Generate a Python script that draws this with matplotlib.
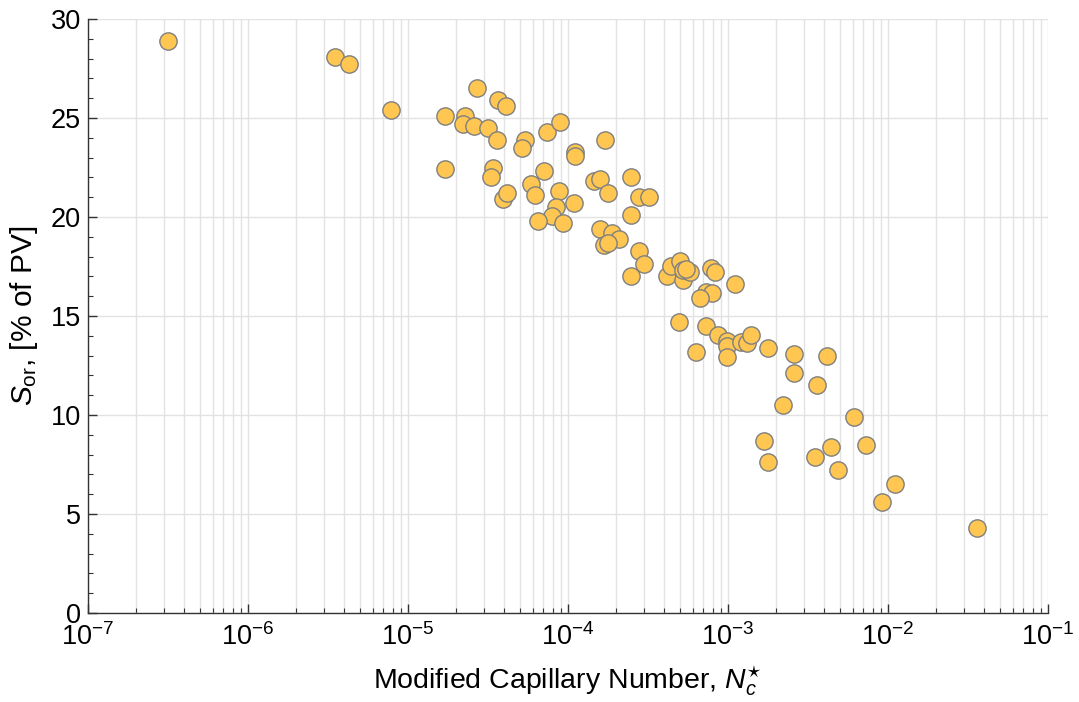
import matplotlib
matplotlib.use('Agg')
import matplotlib.pyplot as plt
from matplotlib.ticker import LogLocator, MultipleLocator, NullFormatter

plt.rcParams['font.family'] = ['Liberation Sans', 'DejaVu Sans']
plt.rcParams['mathtext.fontset'] = 'custom'
plt.rcParams['mathtext.rm'] = 'Liberation Sans'
plt.rcParams['mathtext.it'] = 'Liberation Sans:italic'
plt.rcParams['mathtext.bf'] = 'Liberation Sans:bold'

# Modified capillary number and residual oil saturation (% of PV)
capillary_number = [
    3.18e-7, 3.48e-6, 4.28e-6, 7.83e-6, 1.69e-5, 1.69e-5, 2.69e-5,
    3.67e-5, 4.10e-5, 2.28e-5, 2.19e-5, 2.59e-5, 3.18e-5, 3.58e-5,
    5.39e-5, 5.19e-5, 7.37e-5, 8.95e-5, 1.10e-4, 1.10e-4, 1.69e-4,
    3.38e-5, 3.29e-5, 7.08e-5, 5.87e-5, 6.19e-5, 3.95e-5, 4.18e-5,
    8.83e-5, 1.09e-4, 8.38e-5, 7.90e-5, 6.46e-5, 9.34e-5, 1.46e-4,
    1.58e-4, 1.79e-4, 2.49e-4, 2.79e-4, 3.19e-4, 2.49e-4, 1.58e-4,
    1.89e-4, 2.09e-4, 1.68e-4, 1.79e-4, 2.79e-4, 2.98e-4, 2.49e-4,
    4.18e-4, 4.41e-4, 5.01e-4, 5.21e-4, 5.21e-4, 5.79e-4, 5.50e-4,
    7.87e-4, 8.27e-4, 7.29e-4, 7.94e-4, 6.68e-4, 1.10e-3, 4.96e-4,
    7.26e-4, 8.70e-4, 9.80e-4, 9.90e-4, 1.20e-3, 1.31e-3, 1.39e-3,
    9.86e-4, 6.29e-4, 1.79e-3, 2.58e-3, 2.60e-3, 3.58e-3, 4.18e-3,
    2.20e-3, 6.13e-3, 1.69e-3, 1.79e-3, 4.39e-3, 3.50e-3, 7.29e-3,
    4.90e-3, 1.10e-2, 9.12e-3, 3.58e-2,
]
residual_oil = [
    28.9, 28.1, 27.7, 25.4, 25.1, 22.4, 26.5,
    25.9, 25.6, 25.1, 24.7, 24.6, 24.5, 23.9,
    23.9, 23.5, 24.3, 24.8, 23.3, 23.1, 23.9,
    22.45, 22.0, 22.3, 21.65, 21.1, 20.9, 21.2,
    21.3, 20.7, 20.5, 20.07, 19.8, 19.7, 21.8,
    21.9, 21.2, 22.0, 21.0, 21.0, 20.1, 19.4,
    19.2, 18.9, 18.6, 18.7, 18.3, 17.6, 17.0,
    17.0, 17.5, 17.8, 16.8, 17.3, 17.2, 17.35,
    17.44, 17.2, 16.2, 16.15, 15.9, 16.6, 14.7,
    14.5, 14.04, 13.75, 13.5, 13.7, 13.65, 14.04,
    12.95, 13.2, 13.4, 13.1, 12.1, 11.5, 13.0,
    10.5, 9.9, 8.7, 7.6, 8.4, 7.9, 8.5,
    7.2, 6.5, 5.6, 4.3,
]

fig = plt.figure(figsize=(10.79, 7.02), dpi=100)
ax = fig.add_axes([0.0816, 0.1268, 0.8897, 0.8462])

ax.scatter(capillary_number, residual_oil, s=155, color='#ffc752',
           edgecolors='#7f7f7f', linewidths=1.0, zorder=3)

ax.set_xscale('log')
ax.set_xlim(1e-7, 1e-1)
ax.set_ylim(0, 30)

ax.xaxis.set_major_locator(LogLocator(base=10, numticks=20))
ax.xaxis.set_minor_locator(LogLocator(base=10, subs=range(2, 10), numticks=20))
ax.xaxis.set_minor_formatter(NullFormatter())
ax.yaxis.set_major_locator(MultipleLocator(5))
ax.yaxis.set_minor_locator(MultipleLocator(1))

ax.grid(True, which='both', axis='x', color='#e2e2e2', linewidth=1.0, zorder=0)
ax.grid(True, which='major', axis='y', color='#e2e2e2', linewidth=1.0, zorder=0)
ax.set_axisbelow(True)

for side in ['top', 'right']:
    ax.spines[side].set_visible(False)
for side in ['left', 'bottom']:
    ax.spines[side].set_color('#333333')
    ax.spines[side].set_linewidth(1.0)

ax.tick_params(which='major', direction='in', length=6.5, width=1.0,
               color='#333333', labelsize=19.5)
ax.tick_params(which='minor', direction='in', length=3.6, width=0.8,
               color='#333333')
ax.tick_params(axis='x', which='major', pad=7)
ax.tick_params(axis='y', which='major', pad=5)

ax.set_xlabel(r'Modified Capillary Number, $N_c^{\star}$', fontsize=20.5, labelpad=10)
ax.set_ylabel(r'$S_{\mathrm{or}}$, [% of PV]', fontsize=21.5, labelpad=8)

fig.savefig('out.png', dpi=100)
